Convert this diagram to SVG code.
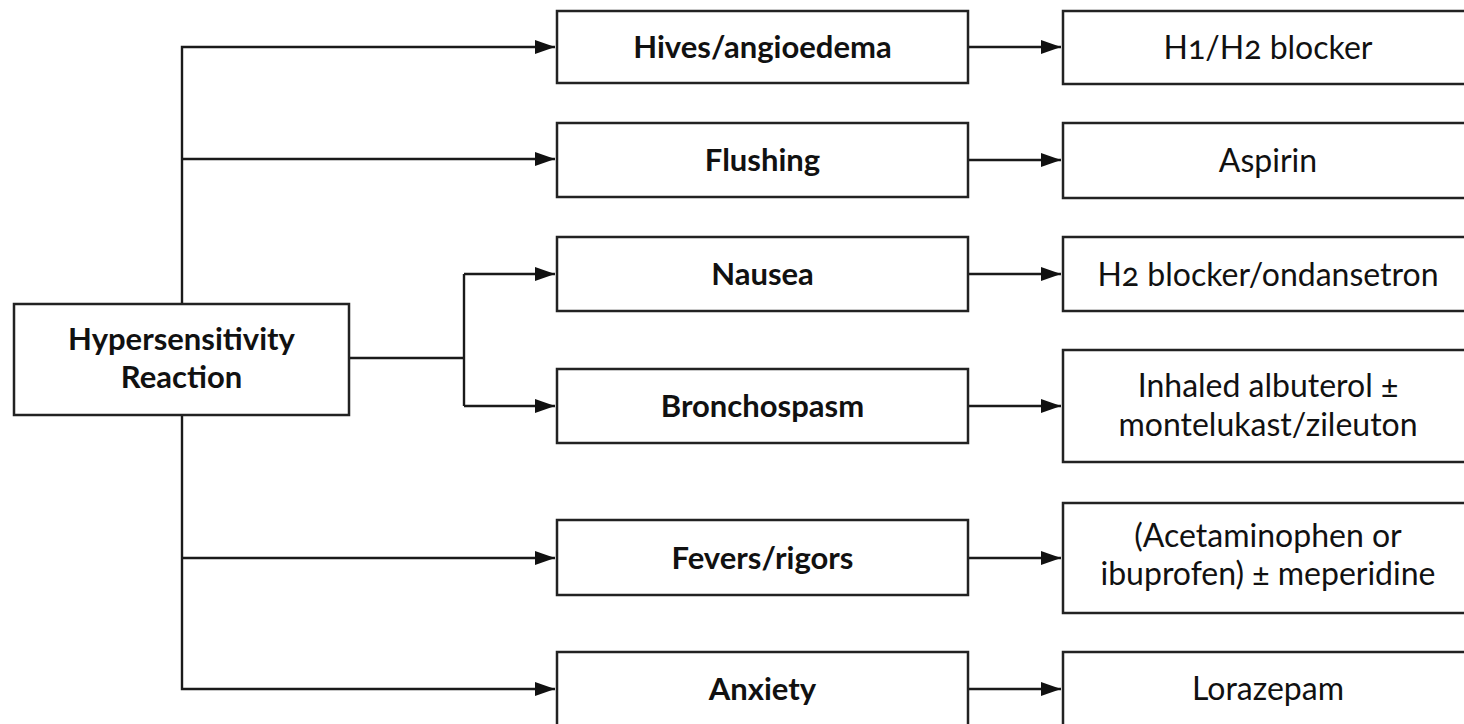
<svg xmlns="http://www.w3.org/2000/svg" width="1464" height="724" viewBox="0 0 1464 724">
<style>
.box{fill:#fff;stroke:#222;stroke-width:2.5}
.b{font-family:Lato,"Open Sans","Liberation Sans",sans-serif;font-weight:700;font-size:31px;fill:#111;text-anchor:middle}
.r{font-family:Lato,"Open Sans","Liberation Sans",sans-serif;font-weight:400;font-size:32px;fill:#111;text-anchor:middle;font-variant-numeric:oldstyle-nums}
.ln{fill:none;stroke:#1a1a1a;stroke-width:2.4}
</style>
<defs>
<marker id="ah" markerUnits="userSpaceOnUse" markerWidth="22" markerHeight="16" refX="20" refY="7" orient="auto">
<path d="M0,0 L20,7 L0,14 Z" fill="#111"/>
</marker>
</defs>
<rect width="1464" height="724" fill="#fff"/>
<g id="connectors">
<path class="ln" d="M182,304 V47 H555" marker-end="url(#ah)"/>
<path class="ln" d="M182,159 H555" marker-end="url(#ah)"/>
<path class="ln" d="M182,415 V689 H555" marker-end="url(#ah)"/>
<path class="ln" d="M182,558 H555" marker-end="url(#ah)"/>
<path class="ln" d="M349,358 H464"/>
<path class="ln" d="M464,274 V406"/>
<path class="ln" d="M464,274 H555" marker-end="url(#ah)"/>
<path class="ln" d="M464,406 H555" marker-end="url(#ah)"/>
<path class="ln" d="M968,47 H1061" marker-end="url(#ah)"/>
<path class="ln" d="M968,160 H1061" marker-end="url(#ah)"/>
<path class="ln" d="M968,274 H1061" marker-end="url(#ah)"/>
<path class="ln" d="M968,406 H1061" marker-end="url(#ah)"/>
<path class="ln" d="M968,558 H1061" marker-end="url(#ah)"/>
<path class="ln" d="M968,689 H1061" marker-end="url(#ah)"/>
</g>
<g id="root">
<rect class="box" x="14" y="304" width="335" height="111"/>
<text class="b" x="181.5" y="350">Hypersensitivity</text>
<text class="b" x="181.5" y="388">Reaction</text>
</g>
<g id="hives">
<rect class="box" x="557" y="11" width="411" height="72"/>
<text class="b" x="762.5" y="58">Hives/angioedema</text>
</g>
<g id="flushing">
<rect class="box" x="557" y="123" width="411" height="74"/>
<text class="b" x="762.5" y="171">Flushing</text>
</g>
<g id="nausea">
<rect class="box" x="557" y="237" width="411" height="74"/>
<text class="b" x="762.5" y="285">Nausea</text>
</g>
<g id="bronchospasm">
<rect class="box" x="557" y="369" width="411" height="74"/>
<text class="b" x="762.5" y="417">Bronchospasm</text>
</g>
<g id="fevers">
<rect class="box" x="557" y="520" width="411" height="75"/>
<text class="b" x="762.5" y="569">Fevers/rigors</text>
</g>
<g id="anxiety">
<rect class="box" x="557" y="652" width="411" height="80"/>
<text class="b" x="762.5" y="700">Anxiety</text>
</g>
<g id="h1h2">
<rect class="box" x="1063" y="11" width="411" height="73"/>
<text class="r" x="1268" y="59">H1/H2 blocker</text>
</g>
<g id="aspirin">
<rect class="box" x="1063" y="123" width="411" height="75"/>
<text class="r" x="1268" y="172">Aspirin</text>
</g>
<g id="h2">
<rect class="box" x="1063" y="237" width="411" height="74"/>
<text class="r" x="1268" y="286">H2 blocker/ondansetron</text>
</g>
<g id="albuterol">
<rect class="box" x="1063" y="350" width="411" height="112"/>
<text class="r" x="1268" y="397">Inhaled albuterol ±</text>
<text class="r" x="1268" y="436">montelukast/zileuton</text>
</g>
<g id="acetaminophen">
<rect class="box" x="1063" y="503" width="411" height="110"/>
<text class="r" x="1268" y="547">(Acetaminophen or</text>
<text class="r" x="1268" y="585">ibuprofen) ± meperidine</text>
</g>
<g id="lorazepam">
<rect class="box" x="1063" y="652" width="411" height="80"/>
<text class="r" x="1268" y="700">Lorazepam</text>
</g>
</svg>
